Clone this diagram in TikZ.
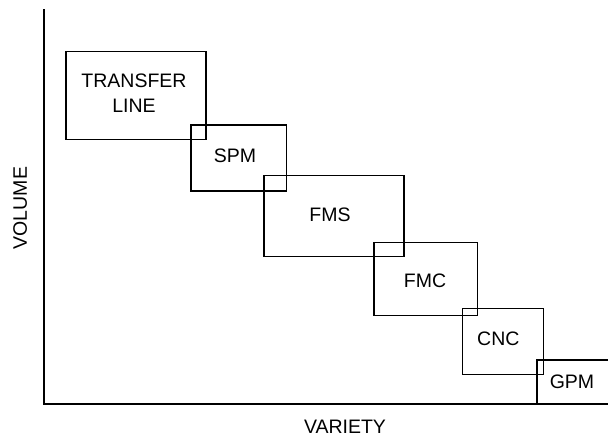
\documentclass[tikz,border=0pt]{standalone}
\usepackage{fontspec}
\setmainfont{Liberation Sans}
\begin{document}
\begin{tikzpicture}[x=1pt,y=-1pt,
  box/.style={draw, line width=1.3pt, inner sep=0pt},
  lbl/.style={inner sep=0pt, font=\fontsize{19.5}{24.4}\selectfont, align=center},
  axis/.style={line width=2pt}]
\useasboundingbox (0,0) rectangle (608,437);
\clip (0,0) rectangle (608,437);
% axes
\coordinate (ytop) at (44,9);
\coordinate (origin) at (44,403.5);
\coordinate (xend) at (610,403.5);
\draw[axis] (ytop) -- (origin) -- (xend);
% boxes
\node[box, minimum width=140pt, minimum height=87.5pt] (tl) at (136,95.5) {};
\node[box, minimum width=95.5pt, minimum height=66pt] (spm) at (238.8,158) {};
\node[box, minimum width=140pt, minimum height=81pt] (fms) at (334,216.2) {};
\node[box, minimum width=103.3pt, minimum height=73pt] (fmc) at (425.7,279.2) {};
\node[box, minimum width=80.6pt, minimum height=66pt] (cnc) at (503,341.7) {};
\node[box, minimum width=100pt, minimum height=43.5pt] (gpm) at (587,381.8) {};
% labels
\node[lbl] (tltext) at (134,93.3) {TRANSFER\\LINE};
\node[lbl] (spmtext) at (235,156) {SPM};
\node[lbl] (fmstext) at (330,214.3) {FMS};
\node[lbl] (fmctext) at (425,280.3) {FMC};
\node[lbl] (cnctext) at (498.3,338.5) {CNC};
\node[lbl] (gpmtext) at (572,382) {GPM};
\node[lbl] (xlabel) at (345,427.2) {VARIETY};
\node[lbl, rotate=90] (ylabel) at (20.2,208) {VOLUME};
\end{tikzpicture}
\end{document}
